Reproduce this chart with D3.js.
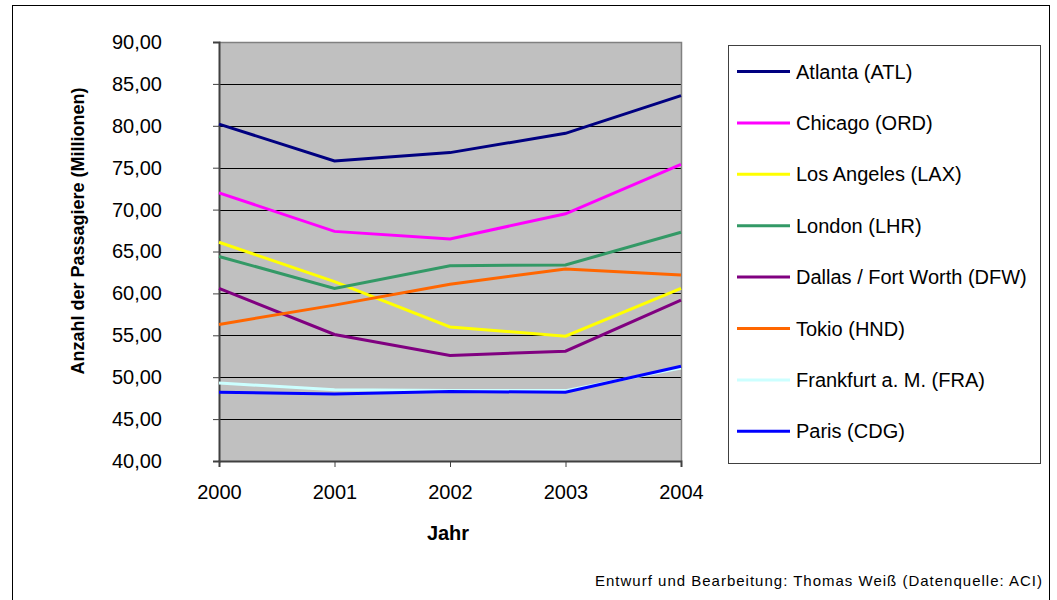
<!DOCTYPE html>
<html>
<head>
<meta charset="utf-8">
<script src="https://cdn.jsdelivr.net/npm/d3@7"></script>
<style>
  html, body { margin: 0; padding: 0; background: #fff; }
  svg { display: block; font-family: "Liberation Sans", Arial, sans-serif; }
</style>
</head>
<body>
<svg id="chart" width="1057" height="600"></svg>
<script>
// Passenger numbers (millions) at major airports, 2000–2004
const years = ["2000", "2001", "2002", "2003", "2004"];
const yTicks = [40, 45, 50, 55, 60, 65, 70, 75, 80, 85, 90];

const atlanta    = [80.2, 75.8, 76.8, 79.1, 83.6];
const chicago    = [72.0, 67.4, 66.5, 69.5, 75.4];
const losAngeles = [66.1, 61.4, 56.0, 54.9, 60.6];
const london     = [64.4, 60.6, 63.3, 63.4, 67.3];
const dallas     = [60.6, 55.1, 52.6, 53.1, 59.2];
const tokio      = [56.3, 58.6, 61.1, 62.9, 62.2];
const frankfurt  = [49.3, 48.5, 48.4, 48.4, 51.1];
const paris      = [48.2, 48.0, 48.3, 48.2, 51.3];

const seriesNames = [
  "Atlanta (ATL)", "Chicago (ORD)", "Los Angeles (LAX)", "London (LHR)",
  "Dallas / Fort Worth (DFW)", "Tokio (HND)", "Frankfurt a. M. (FRA)", "Paris (CDG)"
];
const seriesColors = ["#000080", "#ff00ff", "#ffff00", "#339966", "#800080", "#ff6600", "#ccffff", "#0000ff"];
const seriesValues = [atlanta, chicago, losAngeles, london, dallas, tokio, frankfurt, paris];

const series = seriesNames.map((name, i) => ({ name, color: seriesColors[i], values: seriesValues[i] }));

const svg = d3.select("#chart");

// outer frame
svg.append("rect")
  .attr("x", 12.5).attr("y", 5.5).attr("width", 1037).attr("height", 600)
  .attr("fill", "#fff").attr("stroke", "#000").attr("stroke-width", 1);

const plot = { left: 219, right: 681, top: 42, bottom: 461 };

const x = d3.scalePoint().domain(years).range([plot.left, plot.right]);
const y = d3.scaleLinear().domain([40, 90]).range([plot.bottom, plot.top]);

// plot background
svg.append("rect")
  .attr("x", plot.left).attr("y", plot.top)
  .attr("width", plot.right - plot.left).attr("height", plot.bottom - plot.top)
  .attr("fill", "#c0c0c0");

// gridlines
svg.append("g")
  .selectAll("line")
  .data(yTicks.filter(t => t > 40 && t < 90))
  .join("line")
  .attr("x1", plot.left).attr("x2", plot.right)
  .attr("y1", d => Math.round(y(d)) + 0.5).attr("y2", d => Math.round(y(d)) + 0.5)
  .attr("stroke", "#000").attr("stroke-width", 1);

// top and right border of plot area
svg.append("path")
  .attr("d", `M${plot.left},${plot.top + 0.5}H${plot.right + 0.5}V${plot.bottom}`)
  .attr("fill", "none").attr("stroke", "#808080").attr("stroke-width", 1.5);

const fmt = d => d3.format(".2f")(d).replace(".", ",");

// y axis
const yAxis = svg.append("g")
  .attr("transform", `translate(${plot.left},0)`)
  .call(d3.axisLeft(y).tickValues(yTicks).tickFormat(fmt).tickSize(6).tickPadding(51));
yAxis.select(".domain").attr("stroke", "#404040").attr("stroke-width", 2);
yAxis.selectAll(".tick line").attr("stroke", "#404040").attr("stroke-width", 1);
yAxis.selectAll(".tick text")
  .attr("font-size", 20).attr("fill", "#000")
  .attr("font-family", "Liberation Sans, Arial, sans-serif");

// x axis
const xAxis = svg.append("g")
  .attr("transform", `translate(0,${plot.bottom})`)
  .call(d3.axisBottom(x).tickSize(6).tickPadding(18));
xAxis.select(".domain").attr("stroke", "#404040").attr("stroke-width", 2);
xAxis.selectAll(".tick line").attr("stroke", "#404040").attr("stroke-width", 1);
xAxis.selectAll(".tick text")
  .attr("font-size", 20).attr("fill", "#000")
  .attr("font-family", "Liberation Sans, Arial, sans-serif");

// axis titles
svg.append("text")
  .attr("transform", `translate(84,231) rotate(-90)`)
  .attr("text-anchor", "middle")
  .attr("font-size", 18).attr("font-weight", "bold")
  .text("Anzahl der Passagiere (Millionen)");

svg.append("text")
  .attr("x", 448).attr("y", 540)
  .attr("text-anchor", "middle")
  .attr("font-size", 20).attr("font-weight", "bold")
  .text("Jahr");

// series lines
const line = d3.line()
  .x((d, i) => x(years[i]))
  .y(d => y(d));

svg.append("g")
  .selectAll("path")
  .data(series)
  .join("path")
  .attr("d", d => line(d.values))
  .attr("fill", "none")
  .attr("stroke", d => d.color)
  .attr("stroke-width", 3)
  .attr("stroke-linejoin", "miter");

// legend
const legend = svg.append("g");
legend.append("rect")
  .attr("x", 728.5).attr("y", 45.5).attr("width", 312).attr("height", 418)
  .attr("fill", "#fff").attr("stroke", "#404040").attr("stroke-width", 1);

const legendItem = legend.selectAll("g.item")
  .data(series)
  .join("g")
  .attr("class", "item")
  .attr("transform", (d, i) => `translate(0,${71.5 + i * 51.4})`);

legendItem.append("line")
  .attr("x1", 737).attr("x2", 790)
  .attr("y1", 0).attr("y2", 0)
  .attr("stroke", d => d.color).attr("stroke-width", 3);

legendItem.append("text")
  .attr("x", 796).attr("y", 7)
  .attr("font-size", 20).attr("fill", "#000")
  .text(d => d.name);

// source note
svg.append("text")
  .attr("x", 1043).attr("y", 586)
  .attr("text-anchor", "end")
  .attr("font-size", 15).attr("letter-spacing", 1)
  .attr("fill", "#000")
  .text("Entwurf und Bearbeitung: Thomas Weiß (Datenquelle: ACI)");
</script>
</body>
</html>
